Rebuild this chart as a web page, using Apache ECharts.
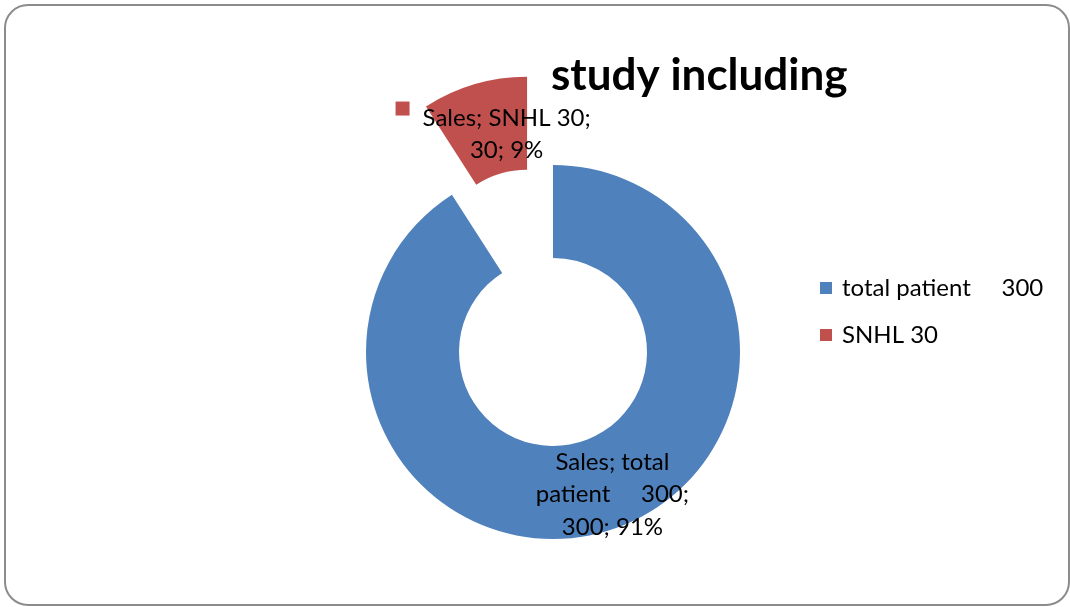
<!DOCTYPE html>
<html><head><meta charset="utf-8">
<script src="https://cdn.jsdelivr.net/npm/echarts@6/dist/echarts.min.js"></script>
<style>
html,body{margin:0;padding:0;background:#fff;}
#frame{position:absolute;left:4px;top:4px;width:1062px;height:598px;border:2px solid #8c8c8c;border-radius:24px;}
#chart{position:absolute;left:0;top:0;width:1070px;height:607px;}
</style>
</head><body>
<div id="frame"></div>
<div id="chart"></div>
<script>
const seriesName = 'Sales';
const titleText = 'study including';
const categories = ['total patient     300', 'SNHL 30'];
const values = [300, 30];
const colors = ['#4F81BD', '#C0504D'];

const FONT = 'Lato';
const chart = echarts.init(document.getElementById('chart'));

function blueLabel(p) {
  const words = p.name.split(' ');
  const first = words[0];
  const rest = p.name.slice(first.length + 1);
  return seriesName + '; ' + first + '\n' + rest + ';\n' + p.value + '; ' + p.percent + '%';
}
function redLabel(p) {
  return '{sq|}{gap|}' + seriesName + '; ' + p.name + ';{pad|}\n' + p.value + '; ' + p.percent + '%';
}

const data = categories.map((c, i) => ({
  name: c,
  value: values[i],
  selected: i === 1,
  itemStyle: { color: colors[i] },
  label: i === 0
    ? { formatter: blueLabel }
    : { formatter: redLabel,
        rich: {
          sq: { width: 14, height: 14, backgroundColor: colors[1], verticalAlign: 'top' },
          gap: { width: 13 },
          pad: { width: 27 }
        } }
}));

chart.setOption({
  animation: false,
  title: {
    text: titleText,
    left: 546, top: 49,
    textStyle: { fontFamily: FONT, fontSize: 44, fontWeight: 'bold', color: '#000' }
  },
  legend: {
    orient: 'vertical',
    left: 815, top: 270,
    itemWidth: 12, itemHeight: 12, itemGap: 21,
    icon: 'rect',
    data: categories,
    selectedMode: false,
    textStyle: { fontFamily: FONT, fontSize: 24, color: '#000', lineHeight: 26, padding: [0, 0, 0, 5] }
  },
  series: [{
    type: 'pie',
    name: seriesName,
    center: [553, 352],
    radius: [94, 187],
    startAngle: 90,
    clockwise: true,
    selectedMode: 'single',
    selectedOffset: 92,
    percentPrecision: 0,
    avoidLabelOverlap: false,
    emphasis: { disabled: true },
    label: {
      show: true, position: 'inside',
      fontFamily: FONT, fontSize: 24, color: '#000', lineHeight: 32.5, align: 'center'
    },
    labelLayout: function (params) {
      return params.dataIndex === 1 ? { dx: 20, dy: 8 } : { dx: 19, dy: 5 };
    },
    labelLine: { show: false },
    data: data
  }]
});
</script>
</body></html>
